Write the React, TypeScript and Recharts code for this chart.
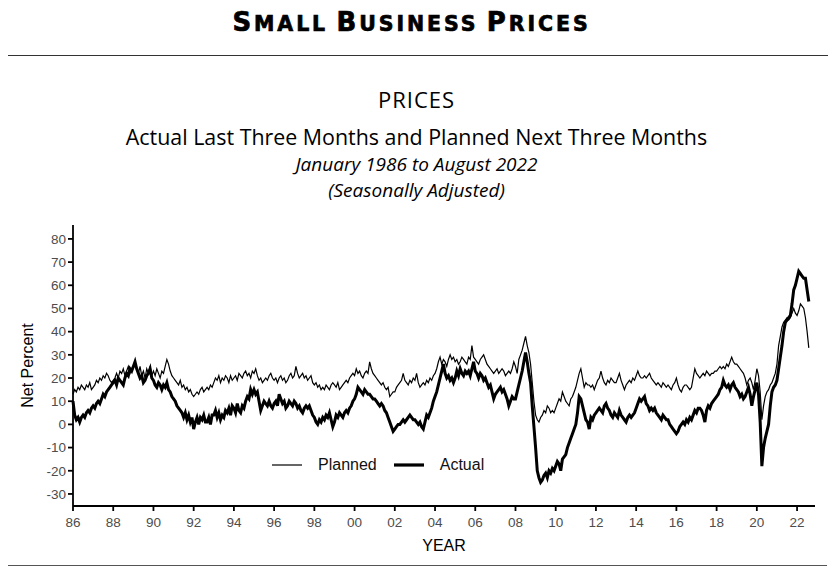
import React from "react";
import { LineChart, Line, XAxis, YAxis } from "recharts";

// monthly, Jan 1986 .. Aug 2022, one row per year
const planned: number[] = [
  13, 15, 14, 16, 15, 17, 16, 15, 17, 16, 18, 15, // 86
  16, 17, 19, 18, 20, 19, 21, 20, 22, 21, 19, 18, // 87
  19, 20, 22, 20, 23, 22, 24, 21, 23, 25, 22, 24, // 88
  25, 27, 24, 22, 25, 21, 23, 20, 24, 22, 25, 21, // 89
  23, 21, 24, 22, 20, 23, 22, 25, 28, 26, 23, 21, // 90
  20, 19, 18, 17, 19, 16, 17, 15, 16, 14, 15, 13, // 91
  12, 13, 14, 13, 15, 16, 14, 15, 16, 15, 17, 16, // 92
  18, 20, 19, 21, 18, 20, 19, 21, 20, 18, 21, 19, // 93
  20, 21, 19, 22, 21, 20, 22, 23, 21, 22, 20, 23, // 94
  22, 24, 21, 19, 20, 18, 19, 20, 19, 21, 22, 20, // 95
  19, 20, 18, 20, 21, 19, 20, 18, 19, 21, 22, 20, // 96
  21, 25, 22, 20, 21, 22, 20, 21, 19, 20, 21, 18, // 97
  17, 18, 16, 17, 15, 16, 15, 17, 16, 15, 17, 18, // 98
  17, 16, 18, 15, 16, 17, 18, 19, 18, 20, 21, 22, // 99
  21, 24, 22, 23, 21, 20, 22, 23, 22, 27, 24, 22, // 00
  21, 20, 19, 18, 17, 18, 16, 15, 16, 12, 13, 14, // 01
  14, 16, 17, 18, 19, 22, 19, 18, 17, 19, 18, 20, // 02
  19, 22, 18, 16, 17, 18, 17, 19, 18, 20, 19, 21, // 03
  22, 24, 27, 29, 26, 28, 27, 25, 28, 30, 28, 29, // 04
  27, 28, 26, 27, 29, 28, 27, 26, 29, 28, 34, 29, // 05
  28, 27, 26, 28, 29, 30, 28, 26, 25, 24, 23, 22, // 06
  23, 24, 22, 23, 24, 23, 21, 22, 23, 22, 24, 27, // 07
  25, 22, 28, 30, 32, 35, 38, 34, 31, 26, 18, 10, // 08
  4, 2, 1, 3, 4, 6, 5, 8, 7, 5, 6, 5, // 09
  7, 9, 11, 10, 14, 12, 10, 9, 8, 11, 12, 14, // 10
  16, 19, 22, 24, 20, 16, 18, 17, 17, 16, 17, 15, // 11
  17, 19, 20, 23, 20, 18, 17, 19, 18, 20, 19, 18, // 12
  18, 20, 22, 19, 17, 15, 17, 18, 19, 18, 20, 19, // 13
  21, 23, 21, 20, 20, 21, 20, 21, 22, 20, 19, 18, // 14
  17, 18, 17, 16, 18, 17, 16, 17, 16, 15, 17, 18, // 15
  20, 17, 15, 14, 16, 17, 17, 16, 15, 16, 20, 24, // 16
  22, 21, 20, 21, 22, 21, 23, 22, 21, 22, 22, 23, // 17
  23, 24, 25, 24, 25, 24, 26, 25, 27, 29, 27, 26, // 18
  26, 25, 24, 23, 22, 20, 17, 19, 20, 18, 15, 19, // 19
  24, 21, 14, 2, 8, 12, 14, 15, 17, 18, 20, 22, // 20
  26, 34, 38, 42, 44, 45, 46, 45, 46, 48, 50, 48, // 21
  47, 49, 52, 51, 50, 46, 40, 33, // 22
];

const actual: number[] = [
  10, 4, 2, 3, 1, 3, 4, 3, 5, 6, 5, 7, // 86
  8, 7, 9, 10, 9, 11, 13, 12, 14, 15, 16, 17, // 87
  18, 19, 17, 20, 19, 18, 17, 20, 22, 21, 24, 23, // 88
  25, 27, 24, 22, 20, 21, 18, 19, 21, 22, 24, 20, // 89
  19, 17, 16, 18, 17, 15, 17, 16, 18, 15, 14, 12, // 90
  11, 10, 8, 7, 6, 5, 3, 5, 2, 4, 1, 3, // 91
  -2, 1, 3, 0, 3, 2, 4, 1, 1, 3, 0, 4, // 92
  4, 6, 3, 5, 2, 4, 3, 6, 5, 7, 4, 8, // 93
  7, 5, 9, 6, 5, 8, 7, 10, 12, 11, 15, 13, // 94
  15, 13, 14, 10, 6, 8, 10, 9, 8, 10, 8, 7, // 95
  9, 10, 8, 13, 11, 9, 10, 7, 8, 10, 9, 8, // 96
  10, 9, 7, 8, 6, 5, 7, 8, 7, 8, 6, 4, // 97
  3, 1, 0, 2, 1, 3, 2, 4, 3, 5, 2, -1, // 98
  1, 4, 3, 5, 4, 3, 5, 6, 5, 7, 8, 10, // 99
  11, 13, 16, 15, 14, 13, 15, 14, 13, 13, 12, 11, // 00
  11, 10, 9, 8, 9, 8, 6, 5, 3, 1, -1, -3, // 01
  -2, -1, 0, 0, 1, 2, 1, 2, 3, 4, 3, 2, // 02
  2, 1, 0, 1, -1, -2, 1, 4, 3, 5, 7, 10, // 03
  12, 14, 17, 20, 23, 26, 22, 20, 21, 19, 20, 18, // 04
  20, 23, 21, 24, 22, 21, 23, 22, 23, 21, 24, 27, // 05
  23, 22, 20, 22, 21, 19, 20, 18, 16, 17, 14, 11, // 06
  13, 14, 15, 16, 14, 15, 13, 11, 8, 10, 12, 11, // 07
  11, 14, 17, 20, 23, 27, 31, 27, 22, 18, 8, -1, // 08
  -10, -20, -23, -25, -24, -22, -21, -23, -20, -21, -19, -20, // 09
  -18, -16, -17, -20, -15, -14, -13, -10, -8, -6, -4, -2, // 10
  0, 5, 12, 11, 8, 5, 2, 1, -2, 3, 2, 4, // 11
  5, 6, 7, 6, 5, 8, 9, 7, 6, 4, 3, 5, // 12
  4, 3, 6, 4, 3, 2, 1, 3, 4, 3, 4, 5, // 13
  7, 9, 11, 10, 11, 12, 9, 8, 6, 7, 6, 7, // 14
  5, 4, 3, 2, 4, 3, 2, 2, 0, -1, -2, -3, // 15
  -4, -3, -1, 0, 1, 0, 2, 1, 3, 2, 4, 6, // 16
  5, 7, 7, 6, 4, 1, 6, 8, 7, 9, 10, 11, // 17
  12, 13, 15, 16, 19, 17, 16, 17, 15, 17, 18, 16, // 18
  15, 14, 12, 13, 11, 12, 14, 16, 13, 8, 12, 15, // 19
  18, 13, 1, -18, -10, -6, -3, 0, 8, 14, 16, 17, // 20
  19, 24, 29, 34, 40, 44, 45, 46, 47, 52, 58, 60, // 21
  63, 66, 65, 64, 63, 63, 58, 53, // 22
];

const yearTicks = [0, 24, 48, 72, 96, 120, 144, 168, 192, 216, 240, 264, 288, 312, 336, 360, 384, 408, 432];
const valueTicks = [-30, -20, -10, 0, 10, 20, 30, 40, 50, 60, 70, 80];

const data = planned.map((p, i) => ({ m: i, planned: p, actual: actual[i] }));

const yearLabel = (m: number) => String((1986 + Math.floor(m / 12)) % 100).padStart(2, "0");

const sans = '"Liberation Sans", Arial, sans-serif';
const titleFont = '"Open Sans", "Noto Sans", sans-serif';

// legend sits inside the plot, drawn over the chart
function LegendBox() {
  return (
    <div
      style={{
        position: "absolute", left: 272, top: 456, display: "flex", alignItems: "center",
        fontFamily: sans, fontSize: 16, color: "#111", lineHeight: "18px",
      }}
    >
      <svg width={30} height={6}>
        <line x1={0} y1={3} x2={30} y2={3} stroke="#000" strokeWidth={1.2} />
      </svg>
      <span style={{ marginLeft: 16 }}>Planned</span>
      <svg width={30} height={6} style={{ marginLeft: 17 }}>
        <line x1={0} y1={3} x2={30} y2={3} stroke="#000" strokeWidth={3.2} />
      </svg>
      <span style={{ marginLeft: 16 }}>Actual</span>
    </div>
  );
}

const big = { fontSize: 26 };
const small = { fontSize: 20.5 };

const centered = { position: "absolute" as const, left: 0, width: 833, textAlign: "center" as const, color: "#000" };

export default function App() {
  return (
    <div style={{ position: "fixed", left: 0, top: 0, width: 833, height: 570, background: "#fff" }}>
      <div
        style={{
          ...centered, left: -5, top: 5, lineHeight: "34px",
          fontFamily: "'DejaVu Sans', sans-serif", fontWeight: 700, letterSpacing: 2.9,
          WebkitTextStroke: "0.7px #000",
        }}
      >
        <span style={big}>S</span><span style={small}>MALL</span>{" "}
        <span style={big}>B</span><span style={small}>USINESS</span>{" "}
        <span style={big}>P</span><span style={small}>RICES</span>
      </div>
      <div style={{ position: "absolute", left: 8, width: 820, top: 55, height: 0, borderTop: "1.5px solid #333" }} />
      <div style={{ ...centered, top: 86, fontFamily: titleFont, fontSize: 22, letterSpacing: 1, lineHeight: "26px" }}>
        PRICES
      </div>
      <div style={{ ...centered, top: 124.5, fontFamily: titleFont, fontSize: 21.4, lineHeight: "24px" }}>
        Actual Last Three Months and Planned Next Three Months
      </div>
      <div style={{ ...centered, top: 153, fontFamily: titleFont, fontSize: 19, fontStyle: "italic", lineHeight: "22px" }}>
        January 1986 to August 2022
      </div>
      <div style={{ ...centered, top: 179, fontFamily: titleFont, fontSize: 19, fontStyle: "italic", lineHeight: "22px" }}>
        (Seasonally Adjusted)
      </div>
      <div style={{ position: "absolute", left: 8, width: 819, top: 565, height: 0, borderTop: "1.5px solid #555" }} />
      <div style={{ position: "absolute", top: 0, left: 0 }}>
        <LineChart width={833} height={570} data={data} margin={{ top: 225, right: 18, left: 13, bottom: 34 }}>
          <XAxis
            dataKey="m"
            type="number"
            domain={[0, 442.7]}
            ticks={yearTicks}
            tickFormatter={yearLabel}
            height={30}
            stroke="#000"
            strokeWidth={1.8}
            tickSize={5}
            tickMargin={6}
            tick={{ fontSize: 13.5, fill: "#4d4d4d", fontFamily: sans }}
            label={{ value: "YEAR", position: "insideBottom", offset: -15, fill: "#000", fontSize: 16, fontFamily: sans }}
          />
          <YAxis
            type="number"
            domain={[-35.2, 86]}
            ticks={valueTicks}
            width={60}
            stroke="#000"
            strokeWidth={1.8}
            tickSize={5}
            tick={{ fontSize: 13.5, fill: "#4d4d4d", fontFamily: sans }}
            label={{ value: "Net Percent", angle: -90, position: "insideLeft", offset: 14, fill: "#000", fontSize: 16, fontFamily: sans, style: { textAnchor: "middle" } }}
          />
          <Line dataKey="actual" stroke="#000" strokeWidth={3} dot={false} isAnimationActive={false} />
          <Line dataKey="planned" stroke="#000" strokeWidth={1.2} dot={false} isAnimationActive={false} />
        </LineChart>
      </div>
      <LegendBox />
    </div>
  );
}
